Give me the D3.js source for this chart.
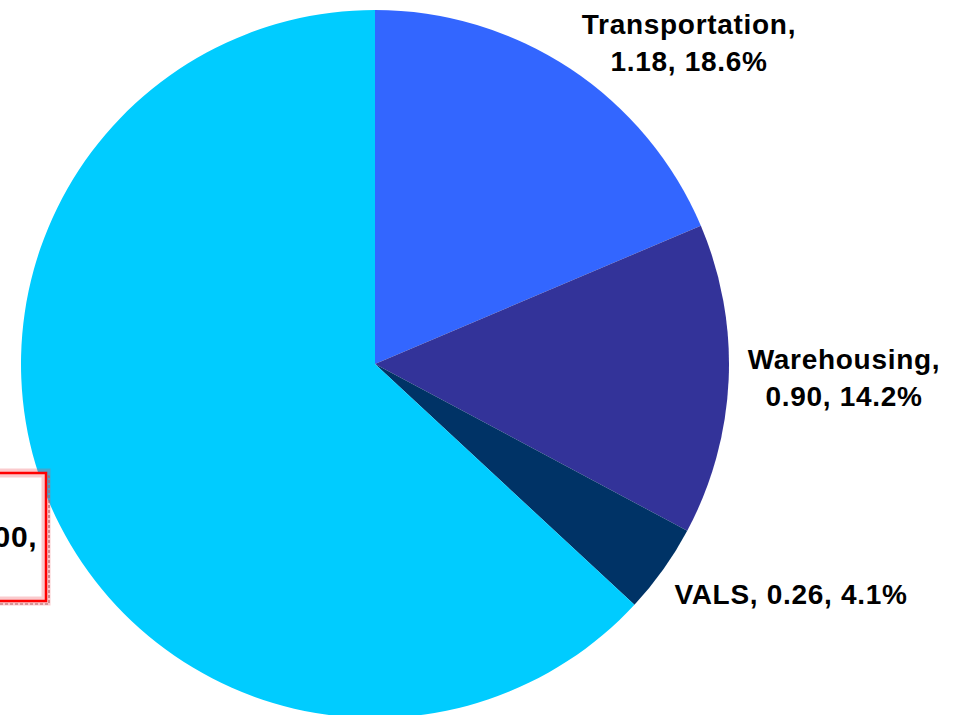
<!DOCTYPE html>
<html><head><meta charset="utf-8">
<script src="https://cdn.jsdelivr.net/npm/d3@7"></script>
<style>body{margin:0;background:#fff;overflow:hidden}svg{display:block}</style>
</head><body>
<script>
const categories = ["Transportation", "Warehousing", "VALS", "Freight Forwarding"];
const values = [1.18, 0.90, 0.26, 4.00];
const colors = ["#3366FF", "#333399", "#003366", "#00CCFF"];

const W = 958, H = 715;
const cx = 375, cy = 364, R = 354;
const svg = d3.select("body").append("svg").attr("width", W).attr("height", H);

const total = d3.sum(values);
const data = categories.map((c, i) => ({name: c, value: values[i], color: colors[i]}));
const pie = d3.pie().value(d => d.value).sort(null);
const arc = d3.arc().innerRadius(0).outerRadius(R);
const arcs = pie(data);

const g = svg.append("g").attr("transform", `translate(${cx},${cy})`);
g.selectAll("path").data(arcs).join("path")
  .attr("d", arc).attr("fill", d => d.data.color);

const fmtV = d3.format(".2f"), fmtP = d3.format(".1%");
// label layout: [x center, first baseline, lines]
const labelLayout = [
  {x: 689, y: 34, size: 28, lines: d => [d.name + ",", fmtV(d.value) + ", " + fmtP(d.value / total)]},
  {x: 844, y: 369, size: 28, lines: d => [d.name + ",", fmtV(d.value) + ", " + fmtP(d.value / total)]},
  {x: 791, y: 604, size: 28, lines: d => [d.name + ", " + fmtV(d.value) + ", " + fmtP(d.value / total)]},
  {x: -92, y: 547, size: 30, lines: d => ["Forwarding, " + fmtV(d.value) + ",", fmtP(d.value / total)]}
];

// selection box around last label
const bx = -10, by = 473, bw = 56, bh = 128;
svg.append("rect").attr("x", bx + 3).attr("y", by + 3).attr("width", bw).attr("height", bh)
  .attr("fill", "none").attr("stroke", "#9a6a6a").attr("stroke-width", 1.2).attr("stroke-dasharray", "3,2");
svg.append("rect").attr("x", bx).attr("y", by).attr("width", bw).attr("height", bh)
  .attr("fill", "#fff").attr("stroke", "rgba(240,80,90,0.3)").attr("stroke-width", 9);
svg.append("rect").attr("x", bx).attr("y", by).attr("width", bw).attr("height", bh)
  .attr("fill", "none").attr("stroke", "#ff0000").attr("stroke-width", 2.5);

arcs.forEach((a, i) => {
  const L = labelLayout[i];
  const t = svg.append("text")
    .attr("x", L.x).attr("y", L.y)
    .attr("text-anchor", "middle")
    .attr("font-family", "'Liberation Sans', Arial, sans-serif")
    .attr("font-weight", "bold").attr("font-size", L.size)
    .attr("letter-spacing", 0.7)
    .attr("fill", "#000");
  L.lines(a.data).forEach((ln, j) => {
    t.append("tspan").attr("x", L.x).attr("dy", j === 0 ? 0 : 37).text(ln);
  });
});
</script>
</body></html>
